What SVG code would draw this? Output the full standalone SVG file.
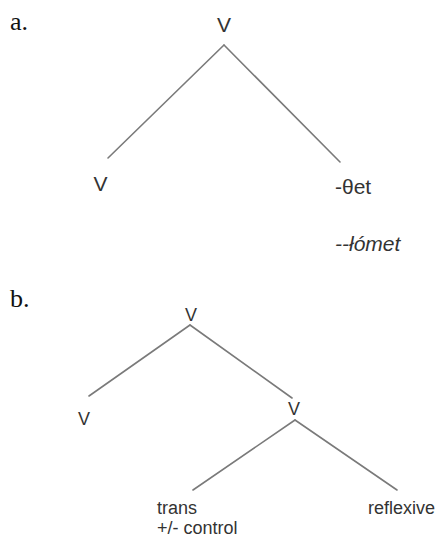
<svg xmlns="http://www.w3.org/2000/svg" width="438" height="540" viewBox="0 0 438 540">
  <style>
    .lbl { font-family: "Liberation Serif", "Times New Roman", serif; font-size: 26px; fill: #111; }
    .na { font-family: "Liberation Sans", Arial, sans-serif; font-size: 21px; fill: #333; }
    .nb { font-family: "Liberation Sans", Arial, sans-serif; font-size: 18px; fill: #333; }
    .edge { stroke: #7a7a7a; stroke-width: 1.6; fill: none; stroke-linecap: round; }
  </style>
  <rect width="438" height="540" fill="#ffffff"/>

  <!-- tree (a) -->
  <text class="lbl" x="10" y="30">a.</text>
  <g id="a-root"><text class="na" x="224" y="32" text-anchor="middle">V</text></g>
  <g id="a-left"><text class="na" x="100.5" y="191" text-anchor="middle">V</text></g>
  <g id="a-right"><text class="na" x="335" y="194">-θet</text></g>
  <g id="a-gloss"><text class="na" x="335" y="251" font-style="italic">--łómet</text></g>

  <!-- tree (b) -->
  <text class="lbl" x="10" y="307">b.</text>
  <g id="b-root"><text class="nb" x="191" y="321" text-anchor="middle">V</text></g>
  <g id="b-left"><text class="nb" x="84" y="425" text-anchor="middle">V</text></g>
  <g id="b-mid"><text class="nb" x="294" y="415" text-anchor="middle">V</text></g>
  <g id="b-trans">
    <text class="nb" x="157" y="514">trans</text>
    <text class="nb" x="157" y="534">+/- control</text>
  </g>
  <g id="b-refl"><text class="nb" x="368" y="514">reflexive</text></g>

  <g id="connectors">
    <line class="edge" x1="224" y1="45" x2="108" y2="158"/>
    <line class="edge" x1="224" y1="45" x2="340" y2="162"/>
    <line class="edge" x1="190" y1="325" x2="89" y2="396"/>
    <line class="edge" x1="190" y1="325" x2="292" y2="398"/>
    <line class="edge" x1="295" y1="420" x2="193" y2="490"/>
    <line class="edge" x1="295" y1="420" x2="397" y2="490"/>
  </g>
</svg>
